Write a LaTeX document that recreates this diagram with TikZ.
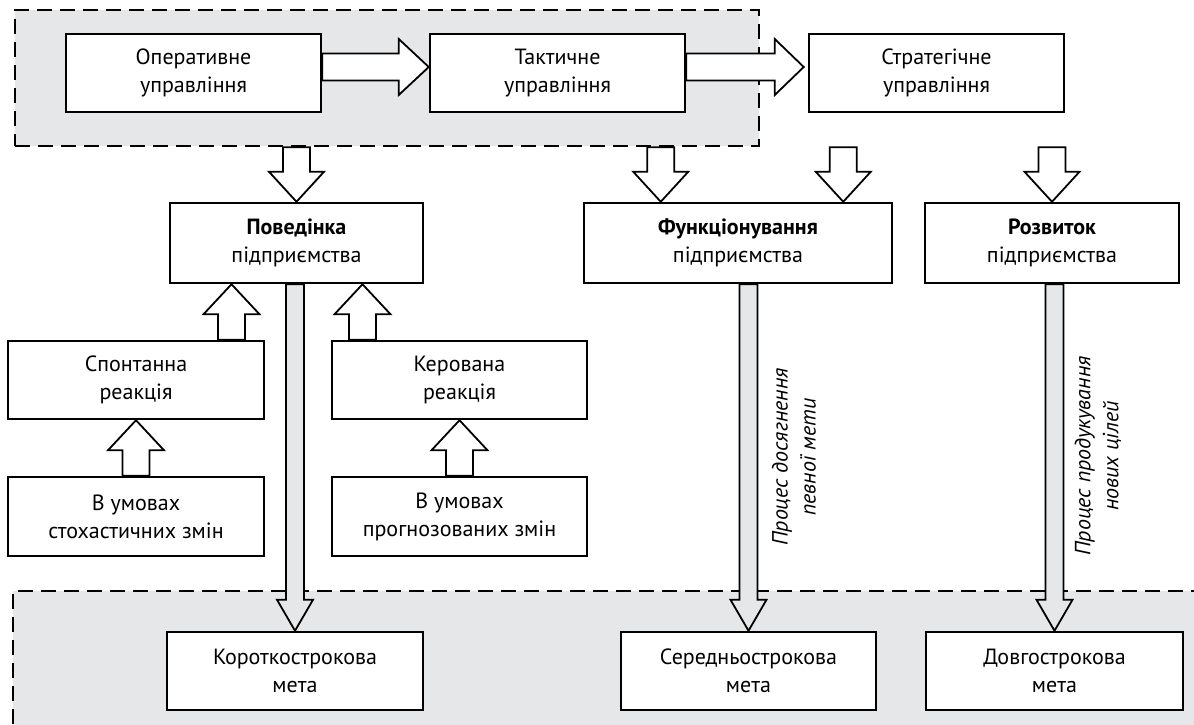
\documentclass[tikz,border=0pt]{standalone}
\usepackage{fontspec}
\setmainfont{PT Sans}
\usetikzlibrary{calc}
\definecolor{regiongray}{HTML}{E6E7E9}
\definecolor{arrgray}{HTML}{E6E7E8}
\newcommand\fsz{\fontsize{22}{28}\selectfont}
% down block arrow: start (y used), tip (x,y used)
\newcommand\arrD[6]{\draw[#1] let \p1=#2, \p2=#3 in (\x2-#4,\y1) -- (\x2-#4,\y2+#6) -- (\x2-#5,\y2+#6) -- (\x2,\y2) -- (\x2+#5,\y2+#6) -- (\x2+#4,\y2+#6) -- (\x2+#4,\y1) -- cycle;}
\newcommand\arrU[6]{\draw[#1] let \p1=#2, \p2=#3 in (\x2-#4,\y1) -- (\x2-#4,\y2-#6) -- (\x2-#5,\y2-#6) -- (\x2,\y2) -- (\x2+#5,\y2-#6) -- (\x2+#4,\y2-#6) -- (\x2+#4,\y1) -- cycle;}
\newcommand\arrR[6]{\draw[#1] let \p1=#2, \p2=#3 in (\x1,\y2+#4) -- (\x2-#6,\y2+#4) -- (\x2-#6,\y2+#5) -- (\x2,\y2) -- (\x2-#6,\y2-#5) -- (\x2-#6,\y2-#4) -- (\x1,\y2-#4) -- cycle;}
\tikzset{
  region/.style={draw, fill=regiongray, line width=2.2pt, dash pattern=on 15pt off 8pt, inner sep=0pt},
  box/.style={draw, fill=white, line width=2.5pt, inner sep=0pt, align=center, font=\fsz, minimum height=78pt},
  warrow/.style={draw, fill=white, line width=1.8pt, line join=miter},
  garrow/.style={draw, fill=arrgray, line width=1.8pt, line join=miter},
  rlabel/.style={rotate=90, align=center, font={\fsz\itshape}, inner sep=0pt}
}
\begin{document}
\begin{tikzpicture}[x=1pt, y=-1pt]
\useasboundingbox (0,0) rectangle (1194,724);
\fill[white] (0,0) rectangle (1194,724);
% regions
\node[region, minimum width=744pt, minimum height=136pt, anchor=north west] (topreg) at (14,9) {};
\node[region, minimum width=1200pt, minimum height=150pt, anchor=north west] (botreg) at (12,590) {};
% top boxes
\node[box, minimum width=255pt] (op) at (193.5,73) {Оперативне\\управління};
\node[box, minimum width=255pt] (tak) at (557.5,73) {Тактичне\\управління};
\node[box, minimum width=255pt] (str) at (936.5,73) {Стратегічне\\управління};
% middle boxes
\node[box, minimum width=253pt, minimum height=80pt] (beh) at (296.5,243) {\textbf{Поведінка}\\підприємства};
\node[box, minimum width=308pt, minimum height=80pt] (fun) at (738,243) {\textbf{Функціонування}\\підприємства};
\node[box, minimum width=254pt, minimum height=80pt] (roz) at (1052,243) {\textbf{Розвиток}\\підприємства};
% reaction boxes
\node[box, minimum width=256pt] (spon) at (136,380) {Спонтанна\\реакція};
\node[box, minimum width=255pt] (ker) at (459.5,380) {Керована\\реакція};
\node[box, minimum width=256pt, minimum height=79pt] (sto) at (136,516.5) {В умовах\\стохастичних змін};
\node[box, minimum width=255pt, minimum height=79pt] (pro) at (459.5,516.5) {В умовах\\прогнозованих змін};
% goal boxes
\node[box, minimum width=256pt] (kor) at (295,671) {Короткострокова\\мета};
\node[box, minimum width=255pt] (ser) at (748.5,671) {Середньострокова\\мета};
\node[box, minimum width=257pt] (dov) at (1054.5,671) {Довгострокова\\мета};
% rotated labels
\node[rlabel] (lab1) at (794,457) {Процес досягнення\\певної мети};
\node[rlabel] (lab2) at (1098,456) {Процес продукування\\нових цілей};
% horizontal arrows
\arrR{warrow}{(op.east)}{($(tak.west)+(0,-6)$)}{13.5pt}{28pt}{30pt}
\arrR{warrow}{(tak.east)}{($(str.west)+(-4,-6)$)}{13.5pt}{28pt}{29pt}
% down white arrows
\arrD{warrow}{(topreg.south)}{(beh.north)}{13.5pt}{27.5pt}{30pt}
\arrD{warrow}{(topreg.south)}{($(fun.north west)+(78,0)$)}{13.5pt}{27.5pt}{30pt}
\arrD{warrow}{(topreg.south)}{($(fun.north east)+(-50,0)$)}{13.5pt}{27.5pt}{30pt}
\arrD{warrow}{(topreg.south)}{(roz.north)}{13.5pt}{27.5pt}{30pt}
% up white arrows
\arrU{warrow}{(spon.north)}{($(beh.south)+(-65,0)$)}{13.5pt}{28pt}{30pt}
\arrU{warrow}{(ker.north)}{($(beh.south)+(66,0)$)}{13.5pt}{28pt}{30pt}
\arrU{warrow}{(sto.north)}{(spon.south)}{13.5pt}{28pt}{30pt}
\arrU{warrow}{(pro.north)}{(ker.south)}{13.5pt}{28pt}{30pt}
% gray arrows
\arrD{garrow}{(beh.south)}{(kor.north)}{9pt}{18pt}{31pt}
\arrD{garrow}{(fun.south)}{(ser.north)}{9pt}{18pt}{31pt}
\arrD{garrow}{(roz.south)}{(dov.north)}{9pt}{18pt}{31pt}
\end{tikzpicture}
\end{document}
